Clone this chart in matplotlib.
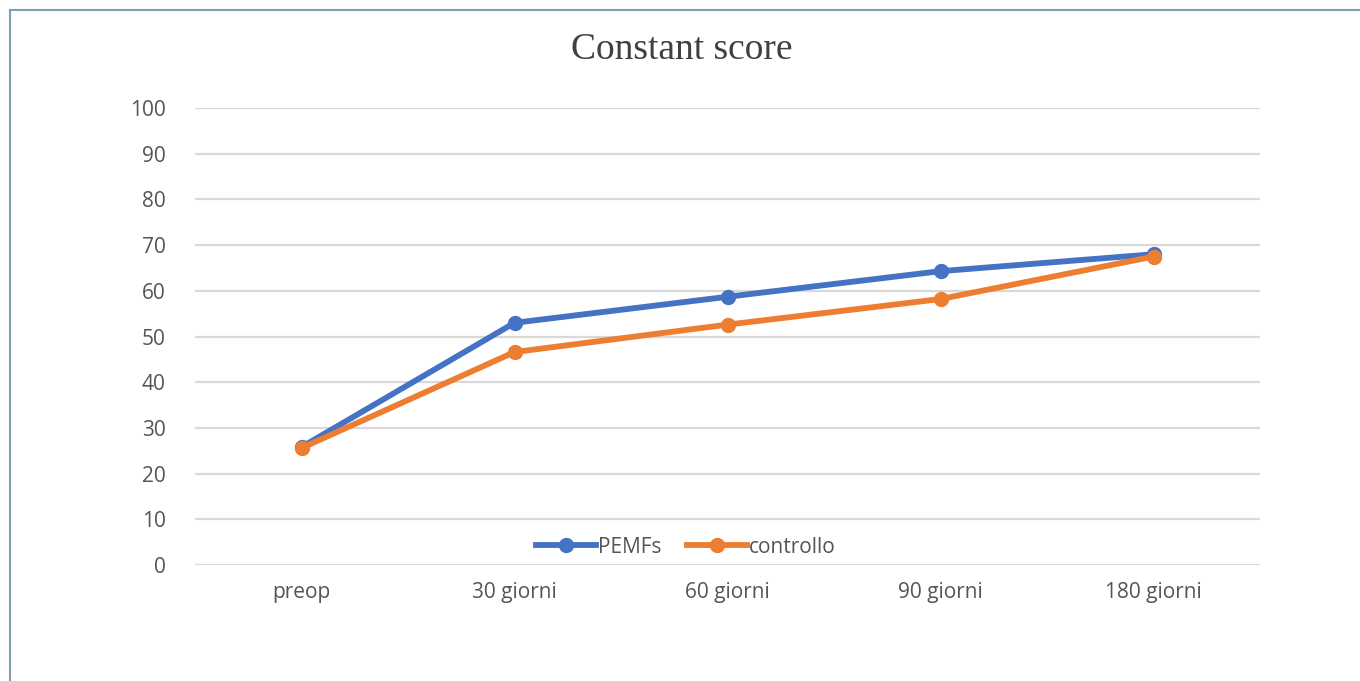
import matplotlib.pyplot as plt
from matplotlib.patches import Rectangle

categories = ["preop", "30 giorni", "60 giorni", "90 giorni", "180 giorni"]
pemfs = [25.8, 53.0, 58.7, 64.3, 68.0]
controllo = [25.6, 46.6, 52.6, 58.2, 67.5]

fig = plt.figure(figsize=(13.6, 6.81), dpi=100)
ax = fig.add_axes([0.1434, 0.1703, 0.7831, 0.6711])

# frame around the whole figure
fig.patches.append(Rectangle((10 / 1360, -0.1), 1.2, (671 / 681) + 0.1,
                             transform=fig.transFigure, fill=False,
                             edgecolor="#7f9fb0", linewidth=1.5))

x = range(len(categories))
ax.plot(x, pemfs, color="#4472c4", lw=4.2, marker="o", ms=10, label="PEMFs",
        solid_joinstyle="round", zorder=3)
ax.plot(x, controllo, color="#ed7d31", lw=4.2, marker="o", ms=10, label="controllo",
        solid_joinstyle="round", zorder=3)

ax.set_xlim(-0.5, 4.5)
ax.set_ylim(0, 100)
ax.set_yticks(range(0, 101, 10))
ax.set_xticks(list(x))
ax.set_xticklabels(categories)
ax.grid(axis="y", color="#d9d9d9", lw=1.6)
ax.set_axisbelow(True)
for s in ax.spines.values():
    s.set_visible(False)
ax.tick_params(length=0, labelsize=15, labelcolor="#555555", pad=12)
ax.tick_params(axis="y", pad=21)
for lab in ax.get_xticklabels() + ax.get_yticklabels():
    lab.set_family("Open Sans")

fig.text(682 / 1360, 1 - 50 / 681, "Constant score", ha="center", va="center",
         fontsize=27, family="Liberation Serif", color="#404040")

leg = ax.legend(loc="center", bbox_to_anchor=(0.461, 0.039), ncol=2, frameon=False,
                prop={"family": "Open Sans", "size": 15}, handlelength=2.9,
                columnspacing=1.2, handletextpad=0.1, borderaxespad=0.0)
for t in leg.get_texts():
    t.set_color("#555555")

fig.savefig("out.png", dpi=100)
